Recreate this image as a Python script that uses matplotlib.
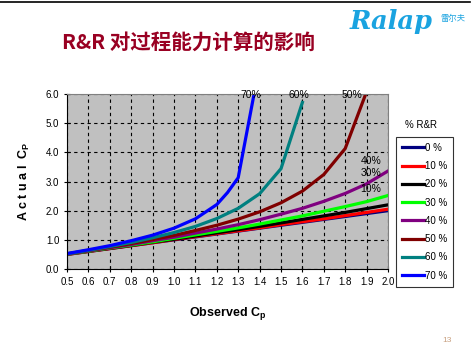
import matplotlib
matplotlib.use('Agg')
import matplotlib.pyplot as plt
from matplotlib.lines import Line2D

plt.rcParams['font.family'] = ['Liberation Sans Narrow', 'Liberation Sans', 'DejaVu Sans']

obs = [0.5, 0.6, 0.7, 0.8, 0.9, 1.0, 1.1, 1.2, 1.3, 1.4, 1.5, 1.6, 1.7, 1.8, 1.9, 2.0]
rr0 = [0.5, 0.6, 0.7, 0.8, 0.9, 1.0, 1.1, 1.2, 1.3, 1.4, 1.5, 1.6, 1.7, 1.8, 1.9, 2.0]
rr10 = [0.50, 0.60, 0.70, 0.80, 0.90, 1.01, 1.11, 1.21, 1.31, 1.41, 1.52, 1.62, 1.72, 1.83, 1.94, 2.05]
rr20 = [0.51, 0.61, 0.71, 0.81, 0.92, 1.02, 1.13, 1.24, 1.35, 1.46, 1.58, 1.70, 1.82, 1.94, 2.07, 2.20]
rr30 = [0.51, 0.61, 0.72, 0.82, 0.93, 1.05, 1.17, 1.29, 1.41, 1.54, 1.68, 1.82, 1.98, 2.14, 2.31, 2.52]
rr40 = [0.51, 0.62, 0.73, 0.84, 0.97, 1.09, 1.23, 1.37, 1.52, 1.69, 1.88, 2.08, 2.32, 2.59, 2.92, 3.36]
obs50 = [0.5, 0.6, 0.7, 0.8, 0.9, 1.0, 1.1, 1.2, 1.3, 1.4, 1.5, 1.6, 1.7, 1.8, 1.9]
rr50 = [0.52, 0.63, 0.75, 0.87, 1.01, 1.15, 1.32, 1.50, 1.71, 1.96, 2.27, 2.67, 3.24, 4.13, 6.08]
obs60 = [0.5, 0.6, 0.7, 0.8, 0.9, 1.0, 1.1, 1.2, 1.3, 1.4, 1.5, 1.6]
rr60 = [0.52, 0.64, 0.77, 0.91, 1.07, 1.25, 1.46, 1.73, 2.08, 2.58, 3.44, 5.71]
obs70 = [0.5, 0.6, 0.7, 0.8, 0.9, 1.0, 1.1, 1.2, 1.25, 1.3, 1.4]
rr70 = [0.53, 0.66, 0.80, 0.97, 1.16, 1.40, 1.72, 2.21, 2.62, 3.13, 7.0]

labels = ['0 %', '10 %', '20 %', '30 %', '40 %', '50 %', '60 %', '70 %']
colors = ['#000080', '#ff0000', '#000000', '#00ff00', '#800080', '#800000', '#008080', '#0000ff']
xs = [obs, obs, obs, obs, obs, obs50, obs60, obs70]
ys = [rr0, rr10, rr20, rr30, rr40, rr50, rr60, rr70]

xticks = [0.5, 0.6, 0.7, 0.8, 0.9, 1.0, 1.1, 1.2, 1.3, 1.4, 1.5, 1.6, 1.7, 1.8, 1.9, 2.0]
yticks = [0.0, 1.0, 2.0, 3.0, 4.0, 5.0, 6.0]

fig = plt.figure(figsize=(4.77, 3.52), dpi=100)
ax = fig.add_axes([67/477, 1-269/352, 321/477, 175/352])
ax.set_facecolor('#c0c0c0')

handles = []
for x, y, c, lab in zip(xs, ys, colors, labels):
    h, = ax.plot(x, y, color=c, lw=2.3, label=lab, solid_joinstyle='round')
    handles.append(h)

ax.set_xlim(0.5, 2.0)
ax.set_ylim(0, 6)
ax.set_xticks(xticks)
ax.set_xticklabels(['%.1f' % v for v in xticks])
ax.set_yticks(yticks)
ax.set_yticklabels(['%.1f' % v for v in yticks])
ax.tick_params(direction='inout', length=5, width=0.8, labelsize=7, pad=3)
ax.grid(True, color='black', linestyle=(0, (3, 3)), linewidth=0.8)
ax.spines['left'].set_color('black')
ax.spines['bottom'].set_color('black')
ax.spines['top'].set_color('#808080')
ax.spines['right'].set_color('#808080')

# curve labels
ax.text(1.36, 5.97, '70%', fontsize=7.5, ha='center', va='center')
ax.text(1.585, 5.97, '60%', fontsize=7.5, ha='center', va='center')
ax.text(1.83, 5.97, '50%', fontsize=7.5, ha='center', va='center')
ax.text(1.92, 3.7, '40%', fontsize=7.5, ha='center', va='center')
ax.text(1.92, 3.29, '30%', fontsize=7.5, ha='center', va='center')
ax.text(1.92, 2.74, '10%', fontsize=7.5, ha='center', va='center')

ax.set_xlabel('Observed C$_\\mathregular{p}$', fontsize=9, fontweight='bold', labelpad=13)
ax.set_ylabel('A c t u a l  C$_\\mathregular{P}$', fontsize=9, fontweight='bold', labelpad=10)

leg = fig.legend(handles, labels, loc='upper left', bbox_to_anchor=(396/477, 1-137/352),
                 fontsize=7, frameon=True, fancybox=False, borderpad=0.6,
                 labelspacing=0.85, handlelength=2.3, handletextpad=0.1, borderaxespad=0)
leg.get_frame().set_edgecolor('black')
leg.get_frame().set_linewidth(0.8)
for l in leg.get_lines():
    l.set_linewidth(2.3)
fig.text(421/477, 1-125/352, '% R&R', fontsize=7, ha='center', va='center')

# slide decorations
fig.add_artist(Line2D([0, 470/477], [1-1.5/352, 1-1.5/352], color='black', lw=1.2))
fig.text(62/477, 1-42/352, 'R&R 对过程能力计算的影响', fontsize=14.8, fontweight='bold',
         color='#990022', ha='left', va='center',
         family=['Noto Sans CJK SC', 'DejaVu Sans'])
fig.text(350/477, 1-21/352, 'Ralap', fontsize=18.5, fontweight='heavy', style='italic',
         color='#1aa3e0', ha='left', va='center', family=['DejaVu Serif'])
fig.text(440/477, 1-19/352, '雷尔夫', fontsize=6, color='#1aa3e0', ha='left', va='center',
         family=['Noto Sans CJK SC'])
fig.text(447/477, 1-341/352, '13', fontsize=6, color='#c8a080', ha='center', va='center')

fig.savefig('out.png', dpi=100)
